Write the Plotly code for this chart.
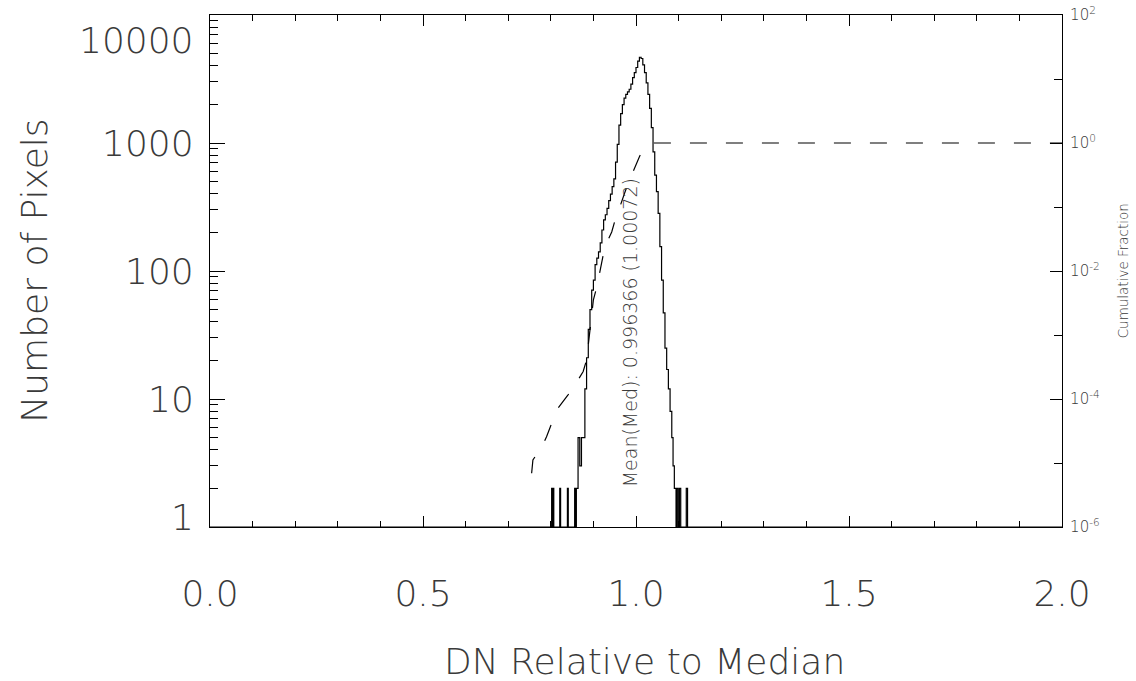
import plotly.graph_objects as go

# ---------------- data ----------------
# Histogram: left bin edges (DN relative to median) and pixel counts
HIST_X = [0.000, 0.802, 0.804, 0.805, 0.807, 0.821, 0.823, 0.839, 0.841, 0.856, 0.858,
          0.860, 0.864, 0.868, 0.872, 0.876,
          0.880, 0.884, 0.888, 0.892, 0.896, 0.900, 0.904, 0.908, 0.912, 0.916,
          0.920, 0.924, 0.928, 0.932, 0.936, 0.940, 0.944, 0.948, 0.952, 0.956,
          0.960, 0.964, 0.968, 0.972, 0.976, 0.980, 0.984, 0.988, 0.992, 0.996,
          1.000, 1.004, 1.008, 1.012, 1.016, 1.020, 1.024, 1.028, 1.032, 1.036,
          1.040, 1.044, 1.048, 1.052, 1.056, 1.060, 1.064, 1.068, 1.072, 1.076,
          1.080, 1.084, 1.087, 1.090, 1.094, 1.096, 1.099, 1.102, 1.105, 1.118,
          1.121, 2.000]
HIST_COUNTS = [1, 2, 1, 2, 1, 2, 1, 2, 1, 2, 1,
               2, 5, 3, 5, 5,
               12, 21, 35, 50, 71, 85, 112, 126, 141, 166,
               209, 251, 275, 309, 355, 398, 457, 525, 708, 977,
               1380, 1698, 1995, 2239, 2399, 2512, 2630, 2884, 3236, 3548,
               3890, 4365, 4677, 4571, 4074, 3548, 2951, 2399, 1862, 1318,
               851, 562, 417, 282, 155, 85, 47, 25, 17, 12,
               8, 5, 3, 2, 1, 2, 1, 2, 1, 2,
               1, 1]

# Cumulative fraction
CUM_X = [0.755, 0.758, 0.779, 0.790, 0.805, 0.817, 0.840, 0.857, 0.876, 0.884,
         0.892, 0.900, 0.908, 0.919, 0.927, 0.943, 0.951, 0.962, 0.975, 0.993,
         1.009, 1.030, 1.037, 2.000]
CUM_FRAC = [6.9e-6, 1.12e-5, 1.78e-5, 2.57e-5, 4.68e-5, 7.24e-5, 1.15e-4, 1.66e-4, 2.69e-4, 4.07e-4,
            1.2e-3, 3.55e-3, 5.62e-3, 1.41e-2, 2.40e-2, 4.07e-2, 6.31e-2, 0.1, 0.178, 0.355,
            0.631, 0.933, 1.0, 1.0]

X_TICKS = [0.0, 0.5, 1.0, 1.5, 2.0]
X_TICK_TEXT = ["0.0", "0.5", "1.0", "1.5", "2.0"]
Y_TICKS = [1, 10, 100, 1000, 10000]
Y_TICK_TEXT = ["1", "10", "100", "1000", "10000"]
Y2_TICKS = [1e-6, 1e-4, 1e-2, 1, 1e2]
Y2_TICK_TEXT = ["10<sup>-6</sup>", "10<sup>-4</sup>", "10<sup>-2</sup>", "10<sup>0</sup>", "10<sup>2</sup>"]

ANNOT_TEXT = "Mean(Med): 0.996366 (1.00072)"

FONT = "DejaVu Sans"
W = 200
TXT = "#3a3a3a"

fig = go.Figure()
fig.add_trace(go.Scatter(x=HIST_X, y=HIST_COUNTS, mode="lines", line_shape="hv",
                         line=dict(color="black", width=1.2), yaxis="y", showlegend=False))
fig.add_trace(go.Scatter(x=CUM_X, y=CUM_FRAC, mode="lines",
                         line=dict(color="black", width=1.2, dash="17px,19px"),
                         yaxis="y2", showlegend=False))

minor_y = [m * 10 ** d for d in range(0, 4) for m in range(2, 10)]

annotations = []
shifts = {1: 10, 10000: -25}
for v, t in zip(Y_TICKS, Y_TICK_TEXT):
    annotations.append(dict(x=0, xref="paper", y=len(str(v)) - 1, yref="y", text=t,
                            showarrow=False, xanchor="right", yanchor="middle",
                            xshift=-14, yshift=shifts.get(v, 0),
                            font=dict(family=FONT, size=36, color=TXT, weight=W)))
annotations.append(dict(x=-0.207, xref="paper", y=0.5, yref="paper", text="Number of Pixels",
                        textangle=-90, showarrow=False, xanchor="center", yanchor="middle",
                        font=dict(family=FONT, size=36, color=TXT, weight=W)))
annotations.append(dict(x=0.51, xref="paper", y=-0.262, yref="paper", text="DN Relative to Median",
                        showarrow=False, xanchor="center", yanchor="middle",
                        font=dict(family=FONT, size=36, color=TXT, weight=W)))
annotations.append(dict(x=1.072, xref="paper", y=0.5, yref="paper", text="Cumulative Fraction",
                        textangle=-90, showarrow=False, xanchor="center", yanchor="middle",
                        font=dict(family=FONT, size=13.5, color=TXT, weight=W)))
annotations.append(dict(x=0.988, xref="x", y=1.52, yref="y", text=ANNOT_TEXT,
                        textangle=-90, showarrow=False, xanchor="center", yanchor="middle",
                        font=dict(family=FONT, size=19, color=TXT, weight=W)))

fig.update_layout(
    width=1136, height=681,
    margin=dict(l=210, r=74, t=15, b=154, autoexpand=False),
    paper_bgcolor="white", plot_bgcolor="white",
    xaxis=dict(range=[0, 2], showgrid=False, zeroline=False, automargin=False,
               showline=True, linecolor="black", linewidth=1.2, mirror="ticks",
               ticks="inside", ticklen=11, tickcolor="black", tickwidth=1.2,
               tickvals=X_TICKS, ticktext=X_TICK_TEXT, ticklabelstandoff=35,
               tickfont=dict(family=FONT, size=36, color=TXT, weight=W),
               minor=dict(dtick=0.1, tick0=0, ticks="inside", ticklen=6,
                          tickcolor="black", tickwidth=1.2, showgrid=False)),
    yaxis=dict(type="log", range=[0, 4], showgrid=False, zeroline=False, automargin=False,
               showline=True, linecolor="black", linewidth=1.2, mirror=False,
               ticks="inside", ticklen=15, tickcolor="black", tickwidth=1.2,
               tickvals=Y_TICKS, showticklabels=False,
               minor=dict(tickvals=minor_y, ticks="inside", ticklen=8,
                          tickcolor="black", tickwidth=1.2, showgrid=False)),
    yaxis2=dict(type="log", range=[-6, 2], overlaying="y", side="right",
                showgrid=False, zeroline=False, automargin=False,
                showline=True, linecolor="black", linewidth=1.2,
                ticks="inside", ticklen=12, tickcolor="black", tickwidth=1.2,
                tickvals=Y2_TICKS, ticktext=Y2_TICK_TEXT, ticklabelstandoff=4,
                tickfont=dict(family=FONT, size=15, color=TXT, weight=W),
                minor=dict(tickvals=[1e-5, 1e-3, 1e-1, 1e1], ticks="inside", ticklen=8,
                           tickcolor="black", tickwidth=1.2, showgrid=False)),
    annotations=annotations,
)

fig.write_html("out.html")
